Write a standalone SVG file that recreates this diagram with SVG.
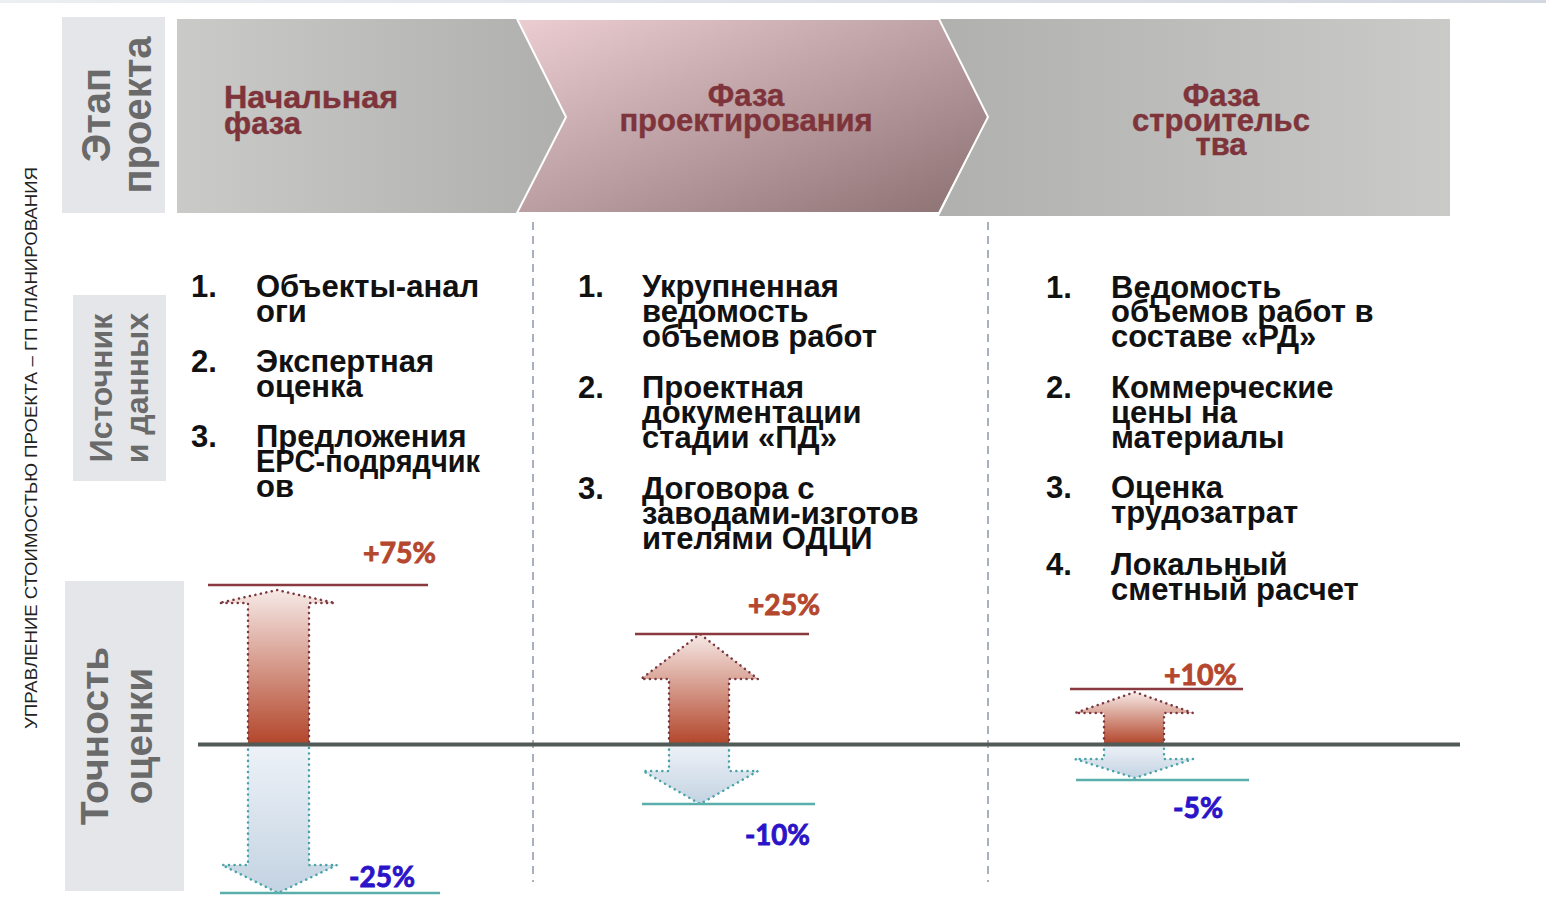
<svg xmlns="http://www.w3.org/2000/svg" width="1546" height="904" viewBox="0 0 1546 904">
<defs>
<linearGradient id="gC1" x1="0" y1="0" x2="1" y2="0"><stop offset="0" stop-color="#cacac8"/><stop offset="1" stop-color="#afafad"/></linearGradient>
<linearGradient id="gC2" x1="0" y1="0" x2="1" y2="1"><stop offset="0" stop-color="#ebcdd2"/><stop offset="1" stop-color="#8b7072"/></linearGradient>
<linearGradient id="gC3" x1="0" y1="0" x2="1" y2="0"><stop offset="0" stop-color="#b0b0ae"/><stop offset="1" stop-color="#cacac8"/></linearGradient>
<linearGradient id="gUp" x1="0" y1="0" x2="0" y2="1"><stop offset="0" stop-color="#f6e9e6"/><stop offset="1" stop-color="#b3462b"/></linearGradient>
<linearGradient id="gDn" x1="0" y1="0" x2="0" y2="1"><stop offset="0" stop-color="#eef2f8"/><stop offset="1" stop-color="#c3d3e2"/></linearGradient>
<linearGradient id="gTop" x1="0" y1="0" x2="1" y2="0"><stop offset="0" stop-color="#eceef2"/><stop offset="1" stop-color="#d3d7df"/></linearGradient>
</defs>
<style>
.lbl{fill:#e5e6ea}
.lt{font-family:"Liberation Sans",Arial,sans-serif;font-weight:bold;fill:#6a6a6a;text-anchor:middle}
.ph{font-family:"Liberation Sans",Arial,sans-serif;font-weight:bold;font-size:31px;fill:#7e343a;stroke:#7e343a;stroke-width:0.4}
.li{font-family:"Liberation Sans",Arial,sans-serif;font-weight:bold;font-size:31px;fill:#111}
.pc{font-family:Lato,"Liberation Sans",sans-serif;font-weight:bold;font-size:29px;stroke-width:0.9}
.plus{fill:#b4472e;stroke:#b4472e}
.minus{fill:#2b14c8;stroke:#2b14c8}
.up{fill:url(#gUp);stroke:#7b3840;stroke-width:2.5;stroke-dasharray:0.1 5.5;stroke-linecap:round}
.dn{fill:url(#gDn);stroke:#4aa3a6;stroke-width:2.5;stroke-dasharray:0.1 5.5;stroke-linecap:round}
.tl{stroke:#8a3a3e;stroke-width:2.5}
.bl{stroke:#5aaeab;stroke-width:2.5}
.div{stroke:#a9b0c0;stroke-width:2;stroke-dasharray:8 6}
</style>
<rect x="0" y="0" width="1546" height="3" fill="url(#gTop)"/>
<text x="0" y="0" transform="translate(37,448) rotate(-90)" font-family="Liberation Sans,Arial,sans-serif" font-size="17" fill="#222" text-anchor="middle" textLength="562" lengthAdjust="spacingAndGlyphs">УПРАВЛЕНИЕ СТОИМОСТЬЮ ПРОЕКТА – ГП ПЛАНИРОВАНИЯ</text>

<g id="label-stage">
<rect class="lbl" x="62" y="17" width="103" height="196"/>
<text class="lt" font-size="40" transform="translate(110,115) rotate(-90)">Этап</text>
<text class="lt" font-size="40" transform="translate(151,115) rotate(-90)">проекта</text>
</g>
<g id="label-source">
<rect class="lbl" x="73" y="295" width="93" height="186"/>
<text class="lt" font-size="32" transform="translate(112,388) rotate(-90)">Источник</text>
<text class="lt" font-size="32" transform="translate(148,388) rotate(-90)">и данных</text>
</g>
<g id="label-accuracy">
<rect class="lbl" x="65" y="581" width="119" height="310"/>
<text class="lt" font-size="39" transform="translate(108,736) rotate(-90)">Точность</text>
<text class="lt" font-size="39" transform="translate(152,736) rotate(-90)">оценки</text>
</g>

<g id="phase-construction">
<path d="M939,19 L1450,19 L1450,216 L939,216 L988,117 Z" fill="url(#gC3)"/>
<text class="ph" text-anchor="middle"><tspan x="1221" y="106">Фаза</tspan><tspan x="1221" y="131">строительс</tspan><tspan x="1221" y="155">тва</tspan></text>
</g>
<g id="phase-initial">
<path d="M177,19 L517,19 L566,117 L517,213 L177,213 Z" fill="url(#gC1)"/>
<text class="ph" x="224" y="108" textLength="174" lengthAdjust="spacingAndGlyphs">Начальная</text>
<text class="ph" x="224" y="134">фаза</text>
</g>
<g id="phase-design">
<path d="M517,19 L939,19 L988,117 L939,213 L517,213 L566,117 Z" fill="url(#gC2)" stroke="#ffffff" stroke-width="2"/>
<text class="ph" text-anchor="middle"><tspan x="746" y="106">Фаза</tspan><tspan x="746" y="131">проектирования</tspan></text>
</g>

<g id="connectors">
<line class="div" x1="533" y1="222" x2="533" y2="882"/>
<line class="div" x1="988" y1="222" x2="988" y2="882"/>
</g>

<g id="sources-initial">
<text class="li"><tspan x="191" y="297">1.</tspan><tspan x="256" y="297">Объекты-анал</tspan><tspan x="256" y="322">оги</tspan></text>
<text class="li"><tspan x="191" y="372">2.</tspan><tspan x="256" y="372">Экспертная</tspan><tspan x="256" y="397">оценка</tspan></text>
<text class="li"><tspan x="191" y="447">3.</tspan><tspan x="256" y="447">Предложения</tspan></text>
<text class="li" x="256" y="472" textLength="224" lengthAdjust="spacingAndGlyphs">EPC-подрядчик</text>
<text class="li" x="256" y="497">ов</text>
</g>
<g id="sources-design">
<text class="li"><tspan x="578" y="297">1.</tspan><tspan x="642" y="297">Укрупненная</tspan><tspan x="642" y="322">ведомость</tspan><tspan x="642" y="347">объемов работ</tspan></text>
<text class="li"><tspan x="578" y="398">2.</tspan><tspan x="642" y="398">Проектная</tspan><tspan x="642" y="423">документации</tspan><tspan x="642" y="448">стадии «ПД»</tspan></text>
<text class="li"><tspan x="578" y="499">3.</tspan><tspan x="642" y="499">Договора с</tspan><tspan x="642" y="524">заводами-изготов</tspan><tspan x="642" y="549">ителями ОДЦИ</tspan></text>
</g>
<g id="sources-construction">
<text class="li"><tspan x="1046" y="298">1.</tspan><tspan x="1111" y="298">Ведомость</tspan><tspan x="1111" y="322">объемов работ в</tspan><tspan x="1111" y="347">составе «РД»</tspan></text>
<text class="li"><tspan x="1046" y="398">2.</tspan><tspan x="1111" y="398">Коммерческие</tspan><tspan x="1111" y="423">цены на</tspan><tspan x="1111" y="448">материалы</tspan></text>
<text class="li"><tspan x="1046" y="498">3.</tspan><tspan x="1111" y="498">Оценка</tspan><tspan x="1111" y="523">трудозатрат</tspan></text>
<text class="li"><tspan x="1046" y="575">4.</tspan><tspan x="1111" y="575">Локальный</tspan><tspan x="1111" y="600">сметный расчет</tspan></text>
</g>

<g id="accuracy-initial">
<path class="up" d="M248,744 L248,603 L219,603 L277,590 L335,603 L309,603 L309,744 Z"/>
<path class="dn" d="M248,744 L248,865 L222,865 L278,893 L337,865 L309,865 L309,744 Z"/>
<line class="tl" x1="208" y1="585" x2="428" y2="585"/>
<line class="bl" x1="220" y1="893" x2="440" y2="893"/>
<text class="pc plus" x="363" y="563" textLength="73" lengthAdjust="spacingAndGlyphs">+75%</text>
<text class="pc minus" x="349" y="887" textLength="66" lengthAdjust="spacingAndGlyphs">-25%</text>
</g>
<g id="accuracy-design">
<path class="up" d="M669,744 L669,679 L641,679 L700,634 L758,679 L729,679 L729,744 Z"/>
<path class="dn" d="M669,744 L669,771 L643,771 L700,804 L758,771 L729,771 L729,744 Z"/>
<line class="tl" x1="635" y1="634" x2="809" y2="634"/>
<line class="bl" x1="642" y1="804" x2="815" y2="804"/>
<text class="pc plus" x="748" y="615" textLength="72" lengthAdjust="spacingAndGlyphs">+25%</text>
<text class="pc minus" x="745" y="845" textLength="65" lengthAdjust="spacingAndGlyphs">-10%</text>
</g>
<g id="accuracy-construction">
<path class="up" d="M1104,744 L1104,713 L1075,713 L1135,692 L1193,713 L1164,713 L1164,744 Z"/>
<path class="dn" d="M1104,744 L1104,759 L1075,759 L1135,778 L1193,759 L1164,759 L1164,744 Z"/>
<line class="tl" x1="1070" y1="689" x2="1243" y2="689"/>
<line class="bl" x1="1076" y1="780" x2="1249" y2="780"/>
<text class="pc plus" x="1164" y="685" textLength="73" lengthAdjust="spacingAndGlyphs">+10%</text>
<text class="pc minus" x="1173" y="818" textLength="50" lengthAdjust="spacingAndGlyphs">-5%</text>
</g>
<g id="axis">
<line x1="198" y1="744.5" x2="1460" y2="744.5" stroke="#525a57" stroke-width="4"/>
</g>
</svg>
